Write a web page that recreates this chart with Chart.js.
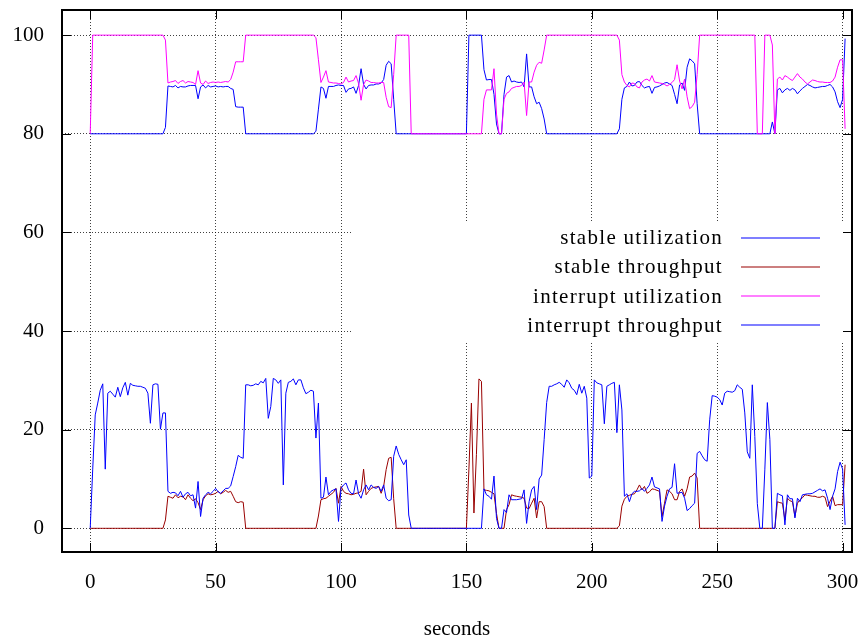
<!DOCTYPE html>
<html>
<head>
<meta charset="utf-8">
<script src="https://cdn.jsdelivr.net/npm/chart.js@4.4.1/dist/chart.umd.min.js"></script>
<style>
  html, body { margin: 0; padding: 0; background: #fff; }
</style>
</head>
<body>
<canvas id="chart" width="864" height="636"></canvas>
<script>
// one sample per second
const seconds = Array.from({ length: 302 }, (_, i) => i);

const stableUtilization = [
  80, 80, 80, 80, 80, 80, 80, 80, 80, 80,
  80, 80, 80, 80, 80, 80, 80, 80, 80, 80,
  80, 80, 80, 80, 80, 80, 80, 80, 80, 80,
  81.3, 89.7, 89.6, 89.5, 89.8, 89.3, 89.6, 89.5, 89.5, 89.7,
  89.8, 89.8, 89.8, 87.1, 89.5, 89.9, 89.3, 89.8, 89.5, 89.6,
  89.7, 89.5, 89.6, 89.5, 89.6, 89.6, 89.2, 89.0, 85.5, 85.4,
  85.4, 85.4, 80, 80, 80, 80, 80, 80, 80, 80,
  80, 80, 80, 80, 80, 80, 80, 80, 80, 80,
  80, 80, 80, 80, 80, 80, 80, 80, 80, 80,
  80.5, 85, 89.5, 89.2, 87.2, 89.6, 89.6, 89.6, 89.8, 89.9,
  89.8, 89.8, 88.4, 89.1, 89.2, 89.5, 88.2, 89.8, 93.2, 90.0,
  89.1, 89.8, 89.9, 89.9, 90.1, 90.1, 90.3, 91.0, 93.9, 94.7,
  94.2, 87, 80, 80, 80, 80, 80, 80, 80, 80,
  80, 80, 80, 80, 80, 80, 80, 80, 80, 80,
  80, 80, 80, 80, 80, 80, 80, 80, 80, 80,
  80, 100, 100, 100, 100, 100, 100, 93, 90.9, 91,
  91, 88, 82, 80, 80, 88, 91.5, 91.8, 90.5, 90.7,
  90.5, 90.4, 90.5, 89.5, 96.2, 89.5, 89.5, 87.5, 86.1, 86.4,
  85.1, 83, 80, 80, 80, 80, 80, 80, 80, 80,
  80, 80, 80, 80, 80, 80, 80, 80, 80, 80,
  80, 80, 80, 80, 80, 80, 80, 80, 80, 80,
  80, 81, 87, 89.3, 89.6, 90.5, 89.7, 89.8, 90.5, 90.6,
  89.8, 89.3, 89.5, 89.6, 88.2, 89.4, 89.5, 89.7, 90.0, 90.3,
  90.4, 90.1, 89.8, 88, 86.1, 89.9, 90.3, 88.8, 93.5, 95.2,
  94.8, 94.2, 86.1, 80, 80, 80, 80, 80, 80, 80,
  80, 80, 80, 80, 80, 80, 80, 80, 80, 80,
  80, 80, 80, 80, 80, 80, 80, 80, 80, 80,
  80, 80, 82.4, 80, 88.9, 89.2, 88.3, 88.9, 89.2, 88.8,
  89.2, 88.9, 88.1, 88.7, 89.2, 89.6, 90.0, 89.8, 89.5, 89.3,
  89.4, 89.5, 89.6, 89.6, 89.8, 90.0, 89.5, 88.5, 86.5, 85.3,
  87, 99.3
];

const stableThroughput = [
  0, 0, 0, 0, 0, 0, 0, 0, 0, 0,
  0, 0, 0, 0, 0, 0, 0, 0, 0, 0,
  0, 0, 0, 0, 0, 0, 0, 0, 0, 0,
  1.7, 6.5, 6.3, 6.1, 6.8, 6.2, 6.5, 6.4, 5.8, 6.8,
  6.1, 5.6, 6.0, 5.2, 3.8, 5.8, 6.6, 7, 6.8, 6.9,
  7.1, 7.5, 7, 7.3, 7.7, 7.3, 7.5, 6.5, 5.4, 5.2,
  5.4, 5.3, 0, 0, 0, 0, 0, 0, 0, 0,
  0, 0, 0, 0, 0, 0, 0, 0, 0, 0,
  0, 0, 0, 0, 0, 0, 0, 0, 0, 0,
  0, 2.5, 5.8, 6.0, 6.1, 6.5, 6.9, 7.3, 8.1, 5.1,
  8.5, 7.5, 7.1, 7.0, 6.8, 6.9, 7.1, 7.2, 7.5, 12,
  6.8, 7.5, 8.1, 8.3, 8.4, 8.5, 7.1, 8.5, 11.9, 14.2,
  14.4, 6, 0, 0, 0, 0, 0, 0, 0, 0,
  0, 0, 0, 0, 0, 0, 0, 0, 0, 0,
  0, 0, 0, 0, 0, 0, 0, 0, 0, 0,
  0, 12, 25.4, 3.1, 15, 30.3, 29.8, 7.8, 7.7, 7.6,
  7.3, 7, 3, 0, 0, 0, 3.8, 4.8, 6.8, 6.6,
  6.5, 6.4, 6.3, 6.1, 4.1, 4.0, 5.1, 6.1, 2.1, 5.4,
  5.4, 4.4, 0, 0, 0, 0, 0, 0, 0, 0,
  0, 0, 0, 0, 0, 0, 0, 0, 0, 0,
  0, 0, 0, 0, 0, 0, 0, 0, 0, 0,
  0, 0.5, 4.5, 5.9, 6.5, 6.7, 6.9, 7, 7.8, 8.8,
  7.8, 8.5, 7.1, 7.4, 8.0, 7.9, 7.7, 7.5, 2.4, 5.1,
  7.8, 7.5, 7.0, 5.8, 5.8, 7.5, 8.0, 6.5, 8, 10.4,
  10.6, 11.2, 10.2, 0, 0, 0, 0, 0, 0, 0,
  0, 0, 0, 0, 0, 0, 0, 0, 0, 0,
  0, 0, 0, 0, 0, 0, 0, 0, 0, 0,
  0, 0, 0, 0, 5.4, 5.2, 5.1, 1.7, 6.1, 5.6,
  5.4, 2.4, 5.1, 5.8, 6.2, 6.8, 6.7, 6.6, 6.5, 6.5,
  6.3, 6.3, 6.5, 6.3, 4.4, 5.5, 6.5, 4.6, 4.8, 4.8,
  4.8, 12.9
];

const interruptUtilization = [
  80, 100, 100, 100, 100, 100, 100, 100, 100, 100,
  100, 100, 100, 100, 100, 100, 100, 100, 100, 100,
  100, 100, 100, 100, 100, 100, 100, 100, 100, 100,
  99, 90.3, 90.5, 90.6, 90.8, 90.2, 90.6, 90.8, 90.3, 90.6,
  90.5, 90.4, 90.0, 92.8, 90.3, 90.0, 90.7, 90.2, 90.4, 90.5,
  90.4, 90.5, 90.4, 90.5, 90.6, 90.5, 91.0, 92.5, 94.6, 94.6,
  94.6, 94.6, 100, 100, 100, 100, 100, 100, 100, 100,
  100, 100, 100, 100, 100, 100, 100, 100, 100, 100,
  100, 100, 100, 100, 100, 100, 100, 100, 100, 100,
  99.5, 95, 90.4, 91.5, 92.8, 90.5, 90.4, 90.3, 90.3, 90.2,
  90.1, 90.4, 91.5, 90.5, 90.7, 90.8, 91.8, 90.2, 86.8, 90.0,
  90.9, 90.7, 90.4, 90.4, 90.3, 90.3, 90.4, 90.4, 87.4, 85.5,
  85.3, 92, 100, 100, 100, 100, 100, 100, 80, 80,
  80, 80, 80, 80, 80, 80, 80, 80, 80, 80,
  80, 80, 80, 80, 80, 80, 80, 80, 80, 80,
  80, 80, 80, 80, 80, 80, 80, 87, 88.9, 88.9,
  88.9, 93.2, 84, 80, 80, 87, 88.2, 88.5, 89.2, 89.4,
  89.6, 89.6, 89.8, 90.5, 83.7, 90.5, 90.5, 92.5, 93.9, 94.5,
  94.3, 97, 100, 100, 100, 100, 100, 100, 100, 100,
  100, 100, 100, 100, 100, 100, 100, 100, 100, 100,
  100, 100, 100, 100, 100, 100, 100, 100, 100, 100,
  100, 99, 92, 90.5, 89.8, 89.5, 90.3, 90.2, 89.5, 89.3,
  90.5, 90.9, 91.1, 90.7, 91.8, 90.5, 90.4, 90.3, 90.2, 90.0,
  89.7, 90.0, 90.4, 91, 94, 90.7, 89.1, 91.1, 87.5, 85.1,
  85.5, 86.4, 92, 100, 100, 100, 100, 100, 100, 100,
  100, 100, 100, 100, 100, 100, 100, 100, 100, 100,
  100, 100, 100, 100, 100, 100, 80, 80, 80, 100,
  100, 100, 98, 80, 91.1, 91.5, 90.9, 91.8, 91.5, 91.1,
  90.8, 91.5, 92.2, 91.5, 91.1, 90.5, 90.1, 90.5, 90.9, 90.8,
  90.6, 90.5, 90.5, 90.4, 90.4, 90.4, 90.7, 91.5, 93.5, 95,
  95, 81
];

const interruptThroughput = [
  0, 12, 23, 25.4, 28, 29.3, 12, 27.4, 27.8, 27.2,
  26.6, 28.6, 26.7, 28.5, 29.6, 27, 29.4, 29, 28.9, 28.8,
  28.8, 28.6, 28.4, 27.4, 21.3, 29.1, 29.3, 29.2, 20.1, 23.4,
  23.4, 7.5, 7.1, 7.3, 7.2, 6.6, 7.5, 6.3, 7.0, 7.3,
  6.6, 6.8, 4.1, 9.5, 2.4, 6.1, 6.8, 7.3, 7, 7.5,
  8.1, 7.4, 7.1, 7.6, 8.1, 8.1, 8.6, 10.5, 12.5, 14.8,
  14.4, 14.2, 29.1, 29.1, 28.9, 29.0, 29.3, 29.1, 29.8, 29.5,
  30.4, 22.3, 24.7, 30.4, 30.1, 29.4, 30.1, 8.8, 27.4, 29.6,
  29.8, 30.3, 29.1, 30.1, 30.1, 28.5, 27.3, 27.6, 28, 27.8,
  18.3, 25.4, 6.1, 6.3, 10.4, 6.8, 7.5, 7.8, 8.0, 1.4,
  8.1, 8.8, 9.2, 7.8, 7.1, 7.0, 9.8, 7, 6.1, 7.8,
  8.8, 7.8, 8.8, 8.3, 8.1, 8.5, 7.5, 8.8, 6.1, 5.6,
  5.8, 14.6, 16.7, 15, 13.9, 12.9, 13.9, 2.7, 0, 0,
  0, 0, 0, 0, 0, 0, 0, 0, 0, 0,
  0, 0, 0, 0, 0, 0, 0, 0, 0, 0,
  0, 0, 0, 0, 0, 0, 0, 8, 6.8, 6.5,
  5.9, 10.6, 2, 0, 0, 3.8, 3.2, 6.8, 5.8, 5.8,
  5.8, 5.9, 6.0, 7.8, 1, 5.4, 7.8, 8.5, 3.8, 10,
  10.8, 18, 25.5, 28.8, 28.8, 29.1, 29.3, 29.6, 29.2, 28.6,
  30.1, 29.5, 28.4, 28, 27.1, 29.2, 27.4, 28.8, 26.4, 10.2,
  10.6, 30.1, 29.5, 29.3, 29.1, 21.2, 28.8, 29.1, 29.4, 29.6,
  19.4, 29.1, 24, 6.5, 7, 5.4, 7.0, 7.5, 7.5, 7.6,
  8.1, 7.5, 8.1, 8.8, 10.4, 8.4, 8.2, 8.0, 1.4, 4.5,
  6.5, 8.0, 8.3, 13.1, 7.1, 7.2, 7.3, 6.1, 3.6, 4.0,
  4.6, 5.1, 15.2, 15.6, 14.7, 13.9, 13.6, 22, 26.9, 26.8,
  26.6, 26.1, 25, 27.4, 27.8, 27.7, 27.6, 27.9, 29.1, 28.6,
  28.2, 23.4, 15.5, 14.2, 29.1, 18.6, 5, 0, 0, 12,
  25.5, 18, 0, 0, 7.1, 6.8, 6.6, 0.7, 6.8, 6.0,
  6.0, 2.1, 6.1, 5.4, 6.8, 6.9, 7.0, 7.0, 7.1, 7.4,
  7.7, 8.0, 7.6, 7.8, 6.1, 3.8, 6.5, 8, 11.5, 13.4,
  12, 0.7
];

const seriesNames = ['stable utilization', 'stable throughput', 'interrupt utilization', 'interrupt throughput'];
const seriesColors = ['#0000ff', '#990000', '#ff00ff', '#0000ff'];
const xTickValues = [0, 50, 100, 150, 200, 250, 300];
const yTickValues = [0, 20, 40, 60, 80, 100];

const FONT = '"Liberation Serif", "Times New Roman", serif';
Chart.defaults.font.family = FONT;
Chart.defaults.font.size = 21;
Chart.defaults.color = '#000';

// gnuplot-like key (opaque box) plus the framed border with inward ticks
const keyAndFrame = {
    id: 'keyAndFrame',
    beforeDatasetsDraw(chart) {
        const ctx = chart.ctx;
        ctx.save();
        ctx.fillStyle = '#fff';
        ctx.fillRect(351, 221, 500, 120);
        ctx.restore();
    },
    afterDatasetsDraw(chart) {
        const ctx = chart.ctx;
        ctx.save();
        ctx.font = '21px ' + FONT;
        if ('letterSpacing' in ctx) ctx.letterSpacing = '1.3px';
        ctx.textAlign = 'right';
        ctx.textBaseline = 'middle';
        seriesNames.forEach((name, i) => {
            const y = 237.5 + i * 29.3;
            ctx.fillStyle = '#000';
            ctx.fillText(name, 723, y + 1);
            ctx.strokeStyle = seriesColors[i];
            ctx.lineWidth = 1.2;
            ctx.beginPath();
            ctx.moveTo(741, Math.round(y));
            ctx.lineTo(820, Math.round(y));
            ctx.stroke();
        });
        ctx.restore();
    },
    afterDraw(chart) {
        const ctx = chart.ctx;
        const a = chart.chartArea;
        const xs = chart.scales.x, ys = chart.scales.y;
        ctx.save();
        ctx.strokeStyle = '#000';
        ctx.lineWidth = 1;
        ctx.beginPath();
        xTickValues.forEach(v => {
            const px = Math.round(xs.getPixelForValue(v)) + 0.5;
            ctx.moveTo(px, a.bottom); ctx.lineTo(px, a.bottom - 9);
            ctx.moveTo(px, a.top); ctx.lineTo(px, a.top + 9);
        });
        yTickValues.forEach(v => {
            const py = Math.round(ys.getPixelForValue(v)) + 0.5;
            ctx.moveTo(a.left, py); ctx.lineTo(a.left + 9, py);
            ctx.moveTo(a.right, py); ctx.lineTo(a.right - 9, py);
        });
        ctx.stroke();
        ctx.lineWidth = 2;
        ctx.strokeRect(a.left, a.top, a.right - a.left, a.bottom - a.top);
        ctx.restore();
    }
};

const series = [stableUtilization, stableThroughput, interruptUtilization, interruptThroughput];

const noOverflow = scale => {
    scale.paddingTop = 0;
    scale.paddingBottom = 0;
    scale.paddingLeft = 0;
    scale.paddingRight = 0;
};

new Chart(document.getElementById('chart'), {
    type: 'line',
    data: {
        datasets: series.map((values, i) => ({
            label: seriesNames[i],
            data: seconds.map((s, k) => ({ x: s, y: values[k] })),
            borderColor: seriesColors[i],
            borderWidth: 1,
            pointRadius: 0,
            tension: 0,
            fill: false,
            order: 4 - i
        }))
    },
    options: {
        responsive: false,
        animation: false,
        events: [],
        layout: { padding: { top: 10, right: 12, left: 0, bottom: 0 } },
        plugins: {
            legend: { display: false },
            tooltip: { enabled: false }
        },
        scales: {
            x: {
                type: 'linear',
                min: -11.25,
                max: 303.75,
                afterBuildTicks: scale => { scale.ticks = xTickValues.map(v => ({ value: v })); },
                afterFit: scale => { scale.height = 84; noOverflow(scale); },
                ticks: { padding: 18, maxRotation: 0, autoSkip: false, font: { size: 21 } },
                grid: { color: 'rgba(0,0,0,0.75)', lineWidth: 1, drawTicks: false },
                border: { display: false, dash: [1, 2] },
                title: { display: true, text: 'seconds', font: { size: 21 }, padding: { top: 0, bottom: -6 } }
            },
            y: {
                min: -4.8,
                max: 105.1,
                afterBuildTicks: scale => { scale.ticks = yTickValues.map(v => ({ value: v })); },
                afterFit: scale => { scale.width = 62; noOverflow(scale); },
                ticks: { padding: 18, font: { size: 21 } },
                grid: { color: 'rgba(0,0,0,0.75)', lineWidth: 1, drawTicks: false },
                border: { display: false, dash: [1, 2] }
            }
        }
    },
    plugins: [keyAndFrame]
});
</script>
</body>
</html>
